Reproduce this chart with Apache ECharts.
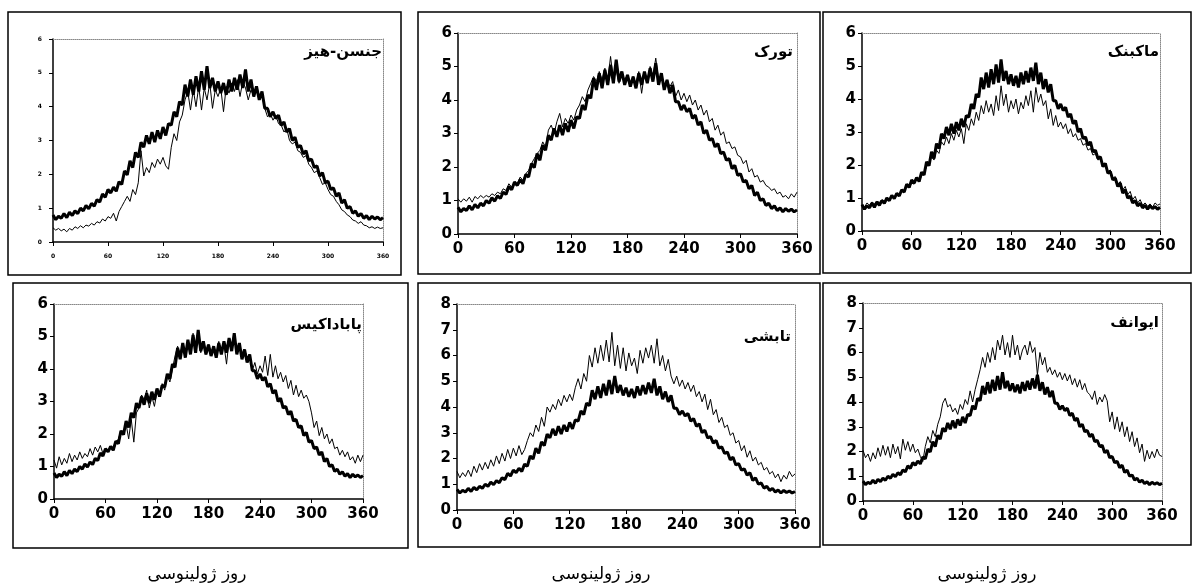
<!DOCTYPE html>
<html><head><meta charset="utf-8">
<script src="https://cdn.jsdelivr.net/npm/echarts/dist/echarts.min.js"></script>
<style>html,body{margin:0;padding:0;background:#fff}#c{width:1193px;height:587px}</style>
</head><body><div id="c"></div>
<script>
// Julian day sampled every 3 days, 0..360
const days = Array.from({length:121},(_,k)=>k*3);
const xTicks = [0,60,120,180,240,300,360];
const xTitle = 'روز ژولینوسی';
const titles = ['جنسن-هیز','تورک','ماکبنک','پاباداکیس','تابشی','ایوانف'];
const yMax = [6,6,6,6,8,8];

// thick line (reference ET0), shared by all panels
const measured = [
0.80,0.66,0.76,0.70,0.84,0.72,0.88,0.78,0.92,0.84,
1.00,0.92,1.08,0.98,1.14,1.06,1.25,1.18,1.42,1.32,
1.55,1.45,1.62,1.50,1.78,1.70,2.10,1.98,2.40,2.20,
2.65,2.50,2.95,2.80,3.15,2.90,3.25,2.95,3.30,3.05,
3.40,3.15,3.50,3.45,3.85,3.70,4.15,4.05,4.65,4.30,
4.80,4.35,4.90,4.45,5.05,4.50,5.20,4.55,4.85,4.45,
4.75,4.40,4.70,4.35,4.80,4.45,4.85,4.50,4.95,4.55,
5.10,4.45,4.80,4.30,4.60,4.20,4.45,3.95,3.95,3.70,
3.85,3.65,3.75,3.45,3.55,3.25,3.35,3.00,3.10,2.80,
2.85,2.60,2.70,2.40,2.45,2.20,2.25,1.95,2.05,1.75,
1.80,1.55,1.60,1.35,1.45,1.15,1.25,1.00,1.05,0.85,
0.92,0.76,0.84,0.70,0.78,0.66,0.76,0.68,0.74,0.66,
0.72];

const jensenHaise = [
0.42,0.35,0.40,0.33,0.38,0.30,0.40,0.35,0.45,0.40,
0.48,0.42,0.50,0.47,0.55,0.50,0.60,0.56,0.68,0.62,
0.75,0.70,0.85,0.62,0.90,1.05,1.20,1.35,1.20,1.55,
1.40,1.75,2.70,1.95,2.20,2.05,2.35,2.20,2.45,2.30,
2.50,2.25,2.15,2.80,3.20,3.00,3.55,3.75,4.20,4.45,
3.90,4.50,4.00,4.60,3.90,4.55,4.20,4.70,3.95,4.50,
4.30,4.55,3.85,4.60,4.40,4.70,4.45,4.80,4.30,4.75,
4.55,4.20,4.50,4.30,4.60,4.20,4.35,3.95,3.70,3.80,
3.60,3.75,3.50,3.45,3.25,3.35,3.00,2.90,2.95,2.70,
2.65,2.50,2.55,2.30,2.20,2.05,2.10,1.90,1.70,1.75,
1.55,1.40,1.35,1.20,1.10,0.95,0.90,0.80,0.75,0.65,
0.62,0.55,0.60,0.50,0.48,0.42,0.45,0.40,0.44,0.40,
0.42];

const turc = [
1.05,0.95,1.05,0.98,1.10,0.95,1.12,1.05,1.15,1.08,
1.15,1.10,1.20,1.15,1.25,1.20,1.35,1.30,1.50,1.40,
1.55,1.50,1.70,1.60,1.80,1.90,2.10,2.25,2.40,2.50,
2.75,2.60,3.10,3.25,3.00,3.35,3.60,3.20,3.45,3.30,
3.55,3.40,3.70,3.85,4.10,3.95,4.30,4.50,4.70,4.55,
4.85,4.60,4.95,4.55,5.30,4.60,4.90,4.50,4.80,4.60,
4.75,4.40,4.70,4.50,4.85,4.20,4.80,4.60,5.00,4.70,
5.25,4.60,4.75,4.45,4.60,4.40,4.55,4.10,4.30,4.00,
4.20,3.95,4.15,3.85,4.00,3.70,3.85,3.55,3.70,3.35,
3.45,3.10,3.25,2.95,3.05,2.70,2.75,2.55,2.60,2.35,
2.30,2.10,2.20,1.85,1.95,1.70,1.75,1.55,1.60,1.45,
1.40,1.30,1.35,1.20,1.25,1.10,1.15,1.05,1.20,1.10,
1.25];

const makkink = [
0.80,0.72,0.85,0.78,0.88,0.82,0.90,0.86,0.95,0.90,
1.00,0.96,1.05,1.02,1.12,1.10,1.22,1.20,1.35,1.32,
1.45,1.42,1.58,1.50,1.68,1.75,1.95,2.05,2.25,2.15,
2.45,2.35,2.70,2.60,2.85,2.65,2.95,2.75,3.05,2.85,
3.10,2.65,3.25,3.05,3.40,3.20,3.60,3.35,3.80,3.55,
3.95,3.60,3.85,3.50,4.10,3.65,4.40,3.80,4.15,3.60,
3.95,3.70,4.00,3.55,3.90,3.70,4.10,3.80,4.25,3.60,
4.35,3.90,4.15,3.80,3.95,3.40,3.70,3.20,3.50,3.15,
3.30,3.10,3.25,2.95,3.10,2.85,2.95,2.75,2.80,2.60,
2.65,2.45,2.50,2.30,2.35,2.15,2.20,1.95,2.00,1.80,
1.85,1.60,1.65,1.40,1.50,1.25,1.35,1.10,1.20,0.95,
1.05,0.85,0.95,0.78,0.85,0.75,0.82,0.72,0.85,0.78,
0.82];

const papadakis = [
1.20,0.95,1.30,1.05,1.25,1.10,1.40,1.15,1.35,1.20,
1.45,1.25,1.40,1.30,1.55,1.35,1.60,1.45,1.65,1.40,
1.55,1.45,1.60,1.50,1.70,1.85,2.10,2.00,2.30,1.85,
2.45,1.75,2.65,2.80,3.20,3.05,3.35,2.80,3.15,2.85,
3.30,3.15,3.55,3.35,3.80,3.60,4.00,4.40,4.70,4.45,
4.80,4.40,4.85,4.50,5.10,4.55,4.95,4.50,4.80,4.45,
4.75,4.50,4.70,4.40,4.85,4.50,4.75,4.15,4.90,4.60,
5.00,4.50,4.70,4.40,4.60,4.35,4.45,3.95,4.20,3.85,
4.10,3.90,4.40,3.80,4.45,3.75,4.10,3.70,3.90,3.60,
3.80,3.40,3.65,3.20,3.50,3.15,3.35,3.10,3.20,3.00,
2.65,2.20,2.40,1.95,2.20,1.85,2.00,1.70,1.85,1.55,
1.60,1.35,1.50,1.30,1.45,1.20,1.30,1.10,1.35,1.15,
1.35];

const radiation = [
1.50,1.25,1.45,1.30,1.55,1.30,1.70,1.45,1.80,1.55,
1.85,1.60,1.95,1.70,2.10,1.80,2.20,1.90,2.35,2.00,
2.40,2.10,2.50,2.15,2.35,2.70,3.00,2.85,3.30,3.05,
3.60,3.25,4.00,3.80,4.10,3.90,4.30,4.05,4.45,4.20,
4.50,4.25,4.75,5.10,4.70,5.30,5.00,6.00,5.55,6.30,
5.70,6.40,5.80,6.60,5.75,6.90,5.60,6.40,5.50,6.30,
5.40,6.10,5.60,5.90,5.30,6.20,5.70,6.30,5.90,6.40,
5.70,6.65,5.60,6.00,5.40,5.85,5.20,4.90,5.20,4.80,
5.05,4.70,4.95,4.60,4.85,4.40,4.60,4.20,4.50,3.90,
4.30,3.70,3.90,3.40,3.60,3.20,3.30,2.90,3.00,2.60,
2.70,2.30,2.50,2.05,2.30,1.90,2.05,1.75,1.85,1.55,
1.65,1.40,1.50,1.25,1.40,1.10,1.35,1.20,1.50,1.30,
1.40];

const ivanov = [
2.05,1.75,1.90,1.60,1.95,1.70,2.15,1.80,2.25,1.85,
2.20,1.75,2.30,1.90,2.20,1.70,2.50,2.05,2.40,2.00,
2.30,1.95,2.10,1.80,1.60,2.20,2.60,2.35,2.85,2.60,
3.10,3.40,3.95,4.15,3.80,3.90,3.60,3.75,3.50,3.90,
3.70,4.10,3.90,4.45,4.00,4.50,4.90,5.30,5.80,5.40,
6.00,5.60,6.20,5.70,6.50,6.10,6.70,5.90,6.40,5.80,
6.70,5.90,6.30,5.70,6.10,6.30,5.90,6.45,6.00,6.20,
5.10,6.00,5.50,5.80,5.20,5.40,5.10,5.30,5.00,5.20,
4.90,5.15,4.85,5.10,4.70,4.95,4.60,4.90,4.50,4.75,
4.40,4.30,4.10,4.45,3.90,4.20,4.00,4.30,4.05,3.20,
3.60,2.90,3.40,2.80,3.20,2.60,3.00,2.40,2.80,2.20,
2.55,1.95,2.30,1.60,2.05,1.70,2.00,1.75,2.10,1.85,
1.80];

const thinSeries = [jensenHaise, turc, makkink, papadakis, radiation, ivanov];

// ---- layout (pixels) ----
const layout = [
  {grid:[53,39,330,203],  box:[8,12,393,263],   tpos:[382,52],  small:true},
  {grid:[458,33,339,201], box:[418,12,402,262], tpos:[793,52]},
  {grid:[862,33,298,198], box:[823,12,368,261], tpos:[1159,52]},
  {grid:[54,304,309,195], box:[13,283,395,265], tpos:[362,325]},
  {grid:[457,304,338,206],box:[418,283,402,264],tpos:[791,337]},
  {grid:[863,303,299,198],box:[823,283,368,262],tpos:[1159,323]}
];
const xTitlePos = [[197,575],[601,575],[987,575]];

const FONT = 'DejaVu Sans';
const grids=[], xAxes=[], yAxes=[], series=[], graphics=[];
layout.forEach((L,i)=>{
  const [gl,gt,gw,gh]=L.grid;
  grids.push({left:gl,top:gt,width:gw,height:gh,containLabel:false});
  const lab = L.small ? {fontSize:6,fontWeight:'bold',fontFamily:FONT,color:'#000'} : {fontSize:15,fontWeight:'bold',fontFamily:FONT,color:'#000'};
  xAxes.push({type:'value',gridIndex:i,min:0,max:360,interval:60,
    axisLine:{onZero:false,lineStyle:{color:'#000',width:1.5}},
    axisTick:{show:true,length:4,lineStyle:{color:'#000'}},
    axisLabel:Object.assign({margin:L.small?11:8,formatter:v=>xTicks.includes(v)?String(v):''},lab),
    splitLine:{show:false}});
  xAxes.push({type:'value',gridIndex:i,position:'top',min:0,max:360,
    axisLine:{onZero:false,lineStyle:{color:'#888',width:1,type:'dotted'}},
    axisTick:{show:false},axisLabel:{show:false},splitLine:{show:false}});
  yAxes.push({type:'value',gridIndex:i,min:0,max:yMax[i],interval:1,
    axisLine:{show:true,onZero:false,lineStyle:{color:'#000',width:1.5}},
    axisTick:{show:true,length:4,lineStyle:{color:'#000'}},
    axisLabel:Object.assign({margin:L.small?11:6},lab),
    splitLine:{show:false}});
  yAxes.push({type:'value',gridIndex:i,position:'right',min:0,max:yMax[i],
    axisLine:{show:true,onZero:false,lineStyle:{color:'#888',width:1,type:'dotted'}},
    axisTick:{show:false},axisLabel:{show:false},splitLine:{show:false}});
  series.push({type:'line',xAxisIndex:2*i,yAxisIndex:2*i,showSymbol:false,symbol:'none',
    lineStyle:{color:'#000',width:1},data:thinSeries[i].map((v,k)=>[days[k],v]),z:2});
  series.push({type:'line',xAxisIndex:2*i,yAxisIndex:2*i,showSymbol:false,symbol:'none',
    lineStyle:{color:'#000',width:3},data:measured.map((v,k)=>[days[k],v]),z:3});
  const [bx,by,bw,bh]=L.box;
  graphics.push({type:'rect',shape:{x:bx,y:by,width:bw,height:bh},
    style:{fill:null,stroke:'#000',lineWidth:1.5},silent:true});
  graphics.push({type:'text',x:L.tpos[0],y:L.tpos[1],
    style:{text:titles[i],font:'bold 15px "'+FONT+'"',fill:'#000',textAlign:'right',textVerticalAlign:'middle'}});
});
xTitlePos.forEach(p=>{
  graphics.push({type:'text',x:p[0],y:p[1],
    style:{text:xTitle,font:'17px "'+FONT+'"',fill:'#000',textAlign:'center',textVerticalAlign:'middle'}});
});

const chart = echarts.init(document.getElementById('c'),null,{renderer:'canvas'});
chart.setOption({animation:false,backgroundColor:'#fff',grid:grids,xAxis:xAxes,yAxis:yAxes,series:series,graphic:graphics});
</script></body></html>
